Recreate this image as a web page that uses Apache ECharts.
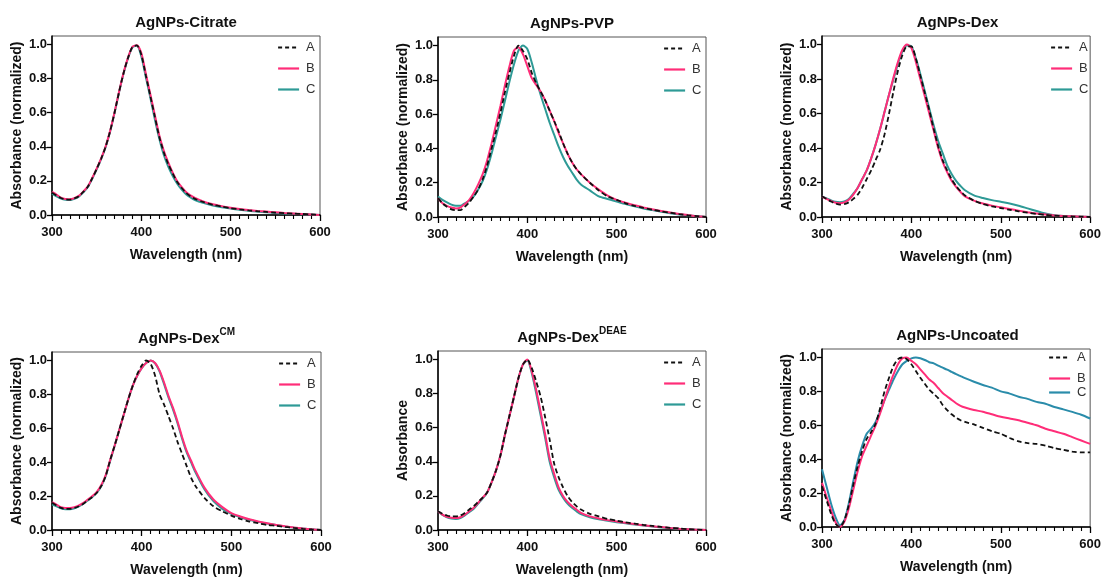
<!DOCTYPE html>
<html>
<head>
<meta charset="utf-8">
<script src="https://cdn.jsdelivr.net/npm/echarts@6/dist/echarts.min.js"></script>
<style>
html,body{margin:0;padding:0;background:#fff;}
#chart{width:1104px;height:579px;}
</style>
</head>
<body>
<div id="chart"></div>
<script>
// Wavelength grid (nm)
var wavelength = [300,305,310,315,320,325,330,335,340,345,350,355,360,365,370,375,380,385,390,395,400,405,410,415,420,425,430,435,440,445,450,455,460,470,480,490,500,510,520,530,540,550,560,570,580,590,600];
var xTicks = [300,400,500,600];
var yTicks = [0,0.2,0.4,0.6,0.8,1.0];
var seriesNames = ['A','B','C'];
var panelTitles = ['AgNPs-Citrate','AgNPs-PVP','AgNPs-Dex','AgNPs-Dex{sup|CM}','AgNPs-Dex{sup|DEAE}','AgNPs-Uncoated'];
var yNames = ['Absorbance (normalized)','Absorbance (normalized)','Absorbance (normalized)','Absorbance (normalized)','Absorbance','Absorbance (normalized)'];

var citrateA = [.13,.115,.10,.092,.09,.097,.11,.135,.165,.215,.27,.33,.40,.49,.60,.72,.83,.92,.985,.995,.94,.82,.70,.58,.46,.37,.30,.245,.195,.16,.13,.11,.095,.075,.06,.05,.04,.033,.027,.022,.018,.014,.011,.008,.006,.003,0];
var citrateB = [.135,.12,.102,.094,.092,.099,.112,.137,.167,.217,.272,.332,.402,.492,.602,.722,.832,.922,.987,.996,.95,.83,.71,.59,.47,.38,.31,.25,.20,.165,.135,.115,.10,.078,.063,.052,.043,.035,.029,.024,.02,.016,.012,.009,.006,.003,0];
var citrateC = [.125,.11,.097,.09,.088,.095,.108,.133,.163,.213,.268,.328,.398,.488,.598,.718,.828,.918,.983,.994,.93,.81,.69,.565,.45,.355,.285,.23,.185,.15,.122,.103,.088,.07,.056,.046,.038,.031,.025,.02,.016,.012,.009,.007,.005,.003,0];

var pvpA = [.11,.08,.06,.045,.04,.04,.06,.085,.12,.16,.22,.30,.40,.50,.61,.73,.84,.94,1.0,.97,.92,.84,.78,.73,.68,.62,.56,.50,.43,.37,.32,.28,.25,.20,.155,.12,.10,.08,.065,.053,.043,.033,.025,.017,.01,.005,0];
var pvpB = [.11,.08,.065,.055,.05,.055,.075,.10,.14,.19,.25,.33,.43,.54,.65,.77,.88,.97,.99,.95,.88,.81,.77,.73,.68,.62,.56,.49,.43,.37,.32,.28,.25,.20,.16,.125,.10,.083,.068,.056,.045,.035,.026,.018,.011,.005,0];
var pvpC = [.12,.10,.085,.072,.065,.065,.08,.095,.12,.16,.21,.28,.37,.47,.57,.68,.79,.89,.97,1.0,.98,.90,.80,.71,.63,.55,.48,.41,.35,.30,.26,.22,.19,.155,.12,.105,.09,.075,.062,.05,.04,.03,.022,.015,.01,.005,0];

var dexA = [.12,.105,.09,.078,.072,.075,.085,.105,.13,.17,.22,.27,.33,.39,.48,.60,.73,.85,.94,.99,.99,.92,.82,.72,.62,.51,.41,.33,.27,.22,.18,.15,.125,.095,.075,.062,.052,.042,.033,.025,.018,.012,.008,.005,.003,.002,0];
var dexB = [.12,.105,.093,.083,.08,.085,.10,.13,.17,.22,.27,.34,.42,.51,.61,.71,.81,.90,.97,1.0,.98,.90,.80,.70,.60,.50,.40,.32,.26,.21,.175,.145,.12,.095,.078,.066,.056,.046,.037,.028,.02,.014,.009,.006,.004,.002,0];
var dexC = [.12,.108,.097,.088,.085,.09,.105,.135,.17,.22,.27,.34,.42,.51,.61,.71,.80,.89,.96,.995,.99,.92,.83,.73,.63,.53,.44,.37,.30,.25,.21,.18,.155,.125,.11,.098,.088,.078,.065,.05,.035,.02,.01,.006,.004,.002,0];

var dexCMA = [.16,.145,.13,.125,.125,.13,.14,.155,.175,.195,.22,.26,.32,.415,.50,.59,.68,.77,.85,.92,.97,1.0,.98,.91,.80,.74,.67,.60,.52,.45,.38,.31,.26,.19,.14,.11,.085,.065,.05,.04,.03,.025,.018,.012,.007,.003,0];
var dexCMB = [.165,.15,.135,.13,.13,.135,.145,.16,.18,.20,.225,.265,.325,.415,.50,.59,.68,.77,.85,.91,.955,.985,1.0,.985,.94,.87,.79,.72,.64,.55,.47,.41,.35,.25,.18,.135,.10,.08,.063,.05,.04,.03,.022,.015,.009,.004,0];
var dexCMC = [.15,.14,.128,.122,.122,.128,.14,.155,.175,.195,.22,.26,.32,.41,.50,.59,.68,.77,.85,.91,.955,.985,1.0,.983,.935,.86,.78,.71,.63,.54,.46,.40,.34,.24,.17,.125,.095,.075,.06,.048,.038,.029,.021,.014,.009,.004,0];

var deaeA = [.11,.095,.085,.08,.08,.085,.10,.12,.14,.165,.19,.22,.28,.35,.44,.56,.67,.78,.89,.97,1.0,.95,.87,.78,.66,.53,.39,.31,.25,.20,.165,.14,.12,.095,.08,.065,.055,.045,.038,.03,.024,.018,.013,.009,.005,.002,0];
var deaeB = [.11,.09,.078,.072,.07,.075,.09,.11,.13,.16,.19,.22,.28,.35,.44,.56,.67,.78,.89,.97,1.0,.93,.82,.69,.56,.42,.33,.25,.20,.165,.14,.12,.10,.08,.068,.058,.05,.042,.035,.028,.022,.017,.012,.008,.005,.002,0];
var deaeC = [.11,.088,.074,.067,.065,.07,.085,.105,.125,.155,.185,.22,.28,.35,.44,.56,.67,.78,.89,.97,.995,.92,.80,.67,.54,.40,.31,.235,.19,.155,.13,.11,.093,.075,.063,.054,.046,.039,.032,.026,.02,.015,.011,.007,.004,.002,0];

var uncoatedA = [.24,.16,.08,.02,0,.04,.13,.25,.36,.45,.52,.56,.61,.70,.80,.88,.95,.99,1.0,.99,.96,.92,.88,.845,.81,.785,.76,.72,.69,.665,.645,.63,.62,.605,.585,.565,.55,.525,.505,.495,.49,.48,.465,.455,.445,.44,.44];
var uncoatedB = [.26,.18,.10,.03,0,.03,.11,.22,.33,.42,.48,.54,.60,.67,.75,.83,.90,.96,.995,1.0,.98,.96,.93,.90,.87,.85,.82,.79,.77,.75,.73,.715,.705,.69,.68,.665,.65,.64,.63,.615,.60,.58,.565,.55,.53,.51,.49];
var uncoatedC = [.34,.24,.14,.06,.01,.04,.14,.27,.39,.48,.55,.58,.62,.68,.75,.81,.87,.92,.96,.98,.995,1.0,.995,.985,.972,.965,.952,.94,.928,.915,.902,.89,.878,.857,.838,.822,.80,.787,.768,.756,.738,.727,.708,.694,.679,.662,.64];

var panelData = [
  [citrateA,citrateB,citrateC],
  [pvpA,pvpB,pvpC],
  [dexA,dexB,dexC],
  [dexCMA,dexCMB,dexCMC],
  [deaeA,deaeB,deaeC],
  [uncoatedA,uncoatedB,uncoatedC]
];

var boxes = [
  {left:52, top:36, width:268, height:179},
  {left:438, top:37, width:268, height:180},
  {left:822, top:36, width:271, height:181},
  {left:52, top:352, width:269, height:178},
  {left:438, top:351, width:268, height:179},
  {left:822, top:349, width:271, height:178}
];

var colA = '#111111', colB = '#FF2D78', colC = '#2E9A96', colC6 = '#2A8CAA';
var FONT = 'Liberation Sans, Arial, sans-serif';

var option = {
  backgroundColor:'#fff',
  animation:false,
  title:[], grid:[], xAxis:[], yAxis:[], series:[], legend:[]
};

function legendItem(name, col){
  if (name === 'A') return {name:'A', lineStyle:{color:colA, width:2, type:[4,3]}};
  return {name:name, lineStyle:{color:col, width:2.2}};
}

for (var i=0;i<6;i++){
  var b = boxes[i];
  var cC = (i===5)?colC6:colC;
  var rich = panelTitles[i].indexOf('{sup|')>=0;
  option.grid.push({left:b.left, top:b.top, width:b.width, height:b.height, show:true, borderColor:'#555', borderWidth:1, containLabel:false});
  option.title.push({
    text: panelTitles[i],
    left: b.left + b.width/2, top: b.top - (rich ? 25 : 21), textAlign:'center', padding:0,
    textStyle:{fontFamily:FONT, fontSize:15, fontWeight:'bold', color:'#111',
      rich:{sup:{fontFamily:FONT, fontSize:10, fontWeight:'bold', color:'#111', padding:[0,0,13,0]}}}
  });
  option.xAxis.push({
    type:'value', gridIndex:i, min:300, max:600, interval:100,
    name:'Wavelength (nm)', nameLocation:'middle', nameGap:33,
    nameTextStyle:{fontFamily:FONT, fontSize:14, fontWeight:'bold', color:'#111'},
    axisLine:{show:true, onZero:false, lineStyle:{color:'#000', width:1.5}},
    axisTick:{show:true, inside:false, length:6, lineStyle:{color:'#000', width:1.3}},
    minorTick:{show:true, splitNumber:10, length:4, lineStyle:{color:'#000', width:1.1}},
    axisLabel:{fontFamily:FONT, fontSize:13, fontWeight:'bold', color:'#111', margin:11, customValues: xTicks},
    splitLine:{show:false}
  });
  option.yAxis.push({
    type:'value', gridIndex:i, min:0, max:1.05,
    name: yNames[i], nameLocation:'middle', nameGap:28, nameMoveOverlap:false,
    nameTextStyle:{fontFamily:FONT, fontSize:14, fontWeight:'bold', color:'#111'},
    axisLine:{show:true, onZero:false, lineStyle:{color:'#000', width:1.5}},
    axisTick:{show:true, inside:false, length:5, lineStyle:{color:'#000', width:1.3}, customValues: yTicks},
    axisLabel:{fontFamily:FONT, fontSize:13, fontWeight:'bold', color:'#111', margin:5, customValues: yTicks,
      formatter:function(v){return v.toFixed(1);}},
    splitLine:{show:false}
  });
  var cols = [colA, colB, cC];
  for (var s=2;s>=0;s--){
    var pts = [];
    for (var k=0;k<wavelength.length;k++) pts.push([wavelength[k], panelData[i][s][k]]);
    option.series.push({
      type:'line', name: seriesNames[s], xAxisIndex:i, yAxisIndex:i,
      data: pts, showSymbol:false, symbol:'none', smooth:0.25,
      lineStyle:{color:cols[s], width:(s===0?1.8:2), type:(s===0?[5,3]:'solid')},
      itemStyle:{color:cols[s]},
      z: 3 + (2-s)
    });
  }
  var legBase = {
    show:true, padding:0, orient:'vertical',
    itemWidth:21, itemHeight:10, itemGap:8,
    itemStyle:{opacity:0},
    textStyle:{fontFamily:FONT, fontSize:13, color:'#333', padding:[0,0,0,2]},
    selectedMode:false
  };
  if (i < 5) {
    option.legend.push(Object.assign({}, legBase, {
      left: b.left + b.width - 43, top: b.top + 5,
      data:[legendItem('A'), legendItem('B', colB), legendItem('C', cC)]
    }));
  } else {
    option.legend.push(Object.assign({}, legBase, {
      left: b.left + b.width - 45, top: b.top + 2,
      data:[legendItem('A'), legendItem('B', colB)]
    }));
    option.legend.push(Object.assign({}, legBase, {
      left: b.left + b.width - 45, top: b.top + 37,
      data:[legendItem('C', cC)]
    }));
  }
}

var chart = echarts.init(document.getElementById('chart'), null, {renderer:'canvas'});
chart.setOption(option);
</script>
</body>
</html>
